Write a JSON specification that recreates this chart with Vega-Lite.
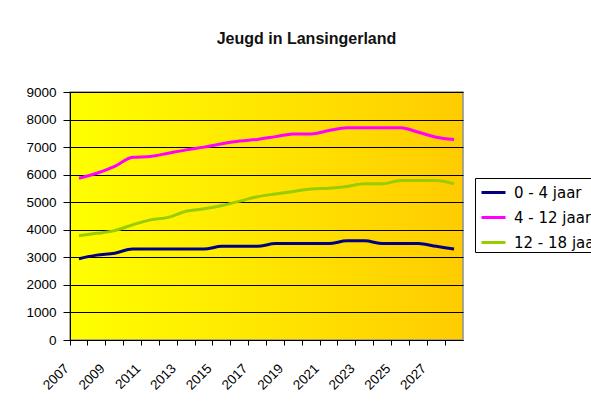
{
  "$schema": "https://vega.github.io/schema/vega-lite/v6.json",
  "autosize": "none",
  "width": 393,
  "height": 248,
  "padding": {"left": 70, "top": 92, "right": 128, "bottom": 65},
  "background": "white",
  "title": {
    "text": "Jeugd in Lansingerland",
    "font": "Liberation Sans",
    "fontSize": 16,
    "fontWeight": "bold",
    "color": "#111111",
    "anchor": "middle",
    "baseline": "alphabetic",
    "offset": 25,
    "dx": 40
  },
  "data": {
    "values": [
      {"year": 2007, "group": "0 - 4 jaar", "value": 2950},
      {"year": 2008, "group": "0 - 4 jaar", "value": 3080},
      {"year": 2009, "group": "0 - 4 jaar", "value": 3150},
      {"year": 2010, "group": "0 - 4 jaar", "value": 3300},
      {"year": 2011, "group": "0 - 4 jaar", "value": 3300},
      {"year": 2012, "group": "0 - 4 jaar", "value": 3300},
      {"year": 2013, "group": "0 - 4 jaar", "value": 3300},
      {"year": 2014, "group": "0 - 4 jaar", "value": 3300},
      {"year": 2015, "group": "0 - 4 jaar", "value": 3400},
      {"year": 2016, "group": "0 - 4 jaar", "value": 3400},
      {"year": 2017, "group": "0 - 4 jaar", "value": 3400},
      {"year": 2018, "group": "0 - 4 jaar", "value": 3500},
      {"year": 2019, "group": "0 - 4 jaar", "value": 3500},
      {"year": 2020, "group": "0 - 4 jaar", "value": 3500},
      {"year": 2021, "group": "0 - 4 jaar", "value": 3500},
      {"year": 2022, "group": "0 - 4 jaar", "value": 3600},
      {"year": 2023, "group": "0 - 4 jaar", "value": 3600},
      {"year": 2024, "group": "0 - 4 jaar", "value": 3500},
      {"year": 2025, "group": "0 - 4 jaar", "value": 3500},
      {"year": 2026, "group": "0 - 4 jaar", "value": 3500},
      {"year": 2027, "group": "0 - 4 jaar", "value": 3400},
      {"year": 2028, "group": "0 - 4 jaar", "value": 3300},
      {"year": 2007, "group": "4 - 12 jaar", "value": 5870},
      {"year": 2008, "group": "4 - 12 jaar", "value": 6050},
      {"year": 2009, "group": "4 - 12 jaar", "value": 6300},
      {"year": 2010, "group": "4 - 12 jaar", "value": 6630},
      {"year": 2011, "group": "4 - 12 jaar", "value": 6660},
      {"year": 2012, "group": "4 - 12 jaar", "value": 6780},
      {"year": 2013, "group": "4 - 12 jaar", "value": 6900},
      {"year": 2014, "group": "4 - 12 jaar", "value": 7000},
      {"year": 2015, "group": "4 - 12 jaar", "value": 7120},
      {"year": 2016, "group": "4 - 12 jaar", "value": 7220},
      {"year": 2017, "group": "4 - 12 jaar", "value": 7280},
      {"year": 2018, "group": "4 - 12 jaar", "value": 7380},
      {"year": 2019, "group": "4 - 12 jaar", "value": 7480},
      {"year": 2020, "group": "4 - 12 jaar", "value": 7480},
      {"year": 2021, "group": "4 - 12 jaar", "value": 7600},
      {"year": 2022, "group": "4 - 12 jaar", "value": 7700},
      {"year": 2023, "group": "4 - 12 jaar", "value": 7700},
      {"year": 2024, "group": "4 - 12 jaar", "value": 7700},
      {"year": 2025, "group": "4 - 12 jaar", "value": 7700},
      {"year": 2026, "group": "4 - 12 jaar", "value": 7540},
      {"year": 2027, "group": "4 - 12 jaar", "value": 7360},
      {"year": 2028, "group": "4 - 12 jaar", "value": 7280},
      {"year": 2007, "group": "12 - 18 jaar", "value": 3780},
      {"year": 2008, "group": "12 - 18 jaar", "value": 3870},
      {"year": 2009, "group": "12 - 18 jaar", "value": 3970},
      {"year": 2010, "group": "12 - 18 jaar", "value": 4180},
      {"year": 2011, "group": "12 - 18 jaar", "value": 4360},
      {"year": 2012, "group": "12 - 18 jaar", "value": 4450},
      {"year": 2013, "group": "12 - 18 jaar", "value": 4670},
      {"year": 2014, "group": "12 - 18 jaar", "value": 4760},
      {"year": 2015, "group": "12 - 18 jaar", "value": 4880},
      {"year": 2016, "group": "12 - 18 jaar", "value": 5040},
      {"year": 2017, "group": "12 - 18 jaar", "value": 5200},
      {"year": 2018, "group": "12 - 18 jaar", "value": 5300},
      {"year": 2019, "group": "12 - 18 jaar", "value": 5390},
      {"year": 2020, "group": "12 - 18 jaar", "value": 5480},
      {"year": 2021, "group": "12 - 18 jaar", "value": 5510},
      {"year": 2022, "group": "12 - 18 jaar", "value": 5570},
      {"year": 2023, "group": "12 - 18 jaar", "value": 5670},
      {"year": 2024, "group": "12 - 18 jaar", "value": 5670},
      {"year": 2025, "group": "12 - 18 jaar", "value": 5790},
      {"year": 2026, "group": "12 - 18 jaar", "value": 5790},
      {"year": 2027, "group": "12 - 18 jaar", "value": 5790},
      {"year": 2028, "group": "12 - 18 jaar", "value": 5670}
    ]
  },
  "mark": {"type": "line", "strokeWidth": 3, "interpolate": "monotone"},
  "encoding": {
    "x": {
      "field": "year",
      "type": "ordinal",
      "scale": {"type": "band", "paddingInner": 0, "paddingOuter": 0},
      "axis": {
        "title": null,
        "bandPosition": 0,
        "grid": false,
        "domainColor": "#000000",
        "tickColor": "#000000",
        "tickSize": 5,
        "labelAngle": -45,
        "labelAlign": "right",
        "labelBaseline": "middle",
        "labelPadding": 21,
        "labelOffset": -12,
        "labelFont": "Liberation Sans",
        "labelFontSize": 13.5,
        "labelColor": "#000000",
        "labelExpr": "datum.value % 2 == 1 ? datum.label : ''"
      }
    },
    "y": {
      "field": "value",
      "type": "quantitative",
      "scale": {"domain": [0, 9000], "nice": false},
      "axis": {
        "title": null,
        "values": [0, 1000, 2000, 3000, 4000, 5000, 6000, 7000, 8000, 9000],
        "format": "d",
        "grid": true,
        "gridColor": "#000000",
        "gridWidth": 1,
        "domainColor": "#000000",
        "tickColor": "#000000",
        "tickSize": 7,
        "labelPadding": 7,
        "labelFont": "Liberation Sans",
        "labelFontSize": 13.5,
        "labelColor": "#000000"
      }
    },
    "color": {
      "field": "group",
      "type": "nominal",
      "scale": {
        "domain": ["0 - 4 jaar", "4 - 12 jaar", "12 - 18 jaar"],
        "range": ["#000080", "#ff00ff", "#99cc00"]
      },
      "legend": {
        "title": null,
        "orient": "none",
        "legendX": 405,
        "legendY": 86,
        "symbolType": "stroke",
        "symbolStrokeWidth": 3,
        "symbolSize": 576,
        "symbolOffset": 4,
        "labelFont": "DejaVu Sans",
        "labelFontSize": 15,
        "labelColor": "#000000",
        "labelOffset": 7,
        "rowPadding": 3,
        "padding": 1,
        "fillColor": "#ffffff",
        "strokeColor": "#000000"
      }
    }
  },
  "config": {
    "view": {
      "stroke": "#909090",
      "strokeWidth": 1.5,
      "fill": {
        "gradient": "linear",
        "x1": 0, "y1": 0, "x2": 1, "y2": 0,
        "stops": [
          {"offset": 0, "color": "#ffff00"},
          {"offset": 1, "color": "#ffcc00"}
        ]
      }
    }
  }
}
